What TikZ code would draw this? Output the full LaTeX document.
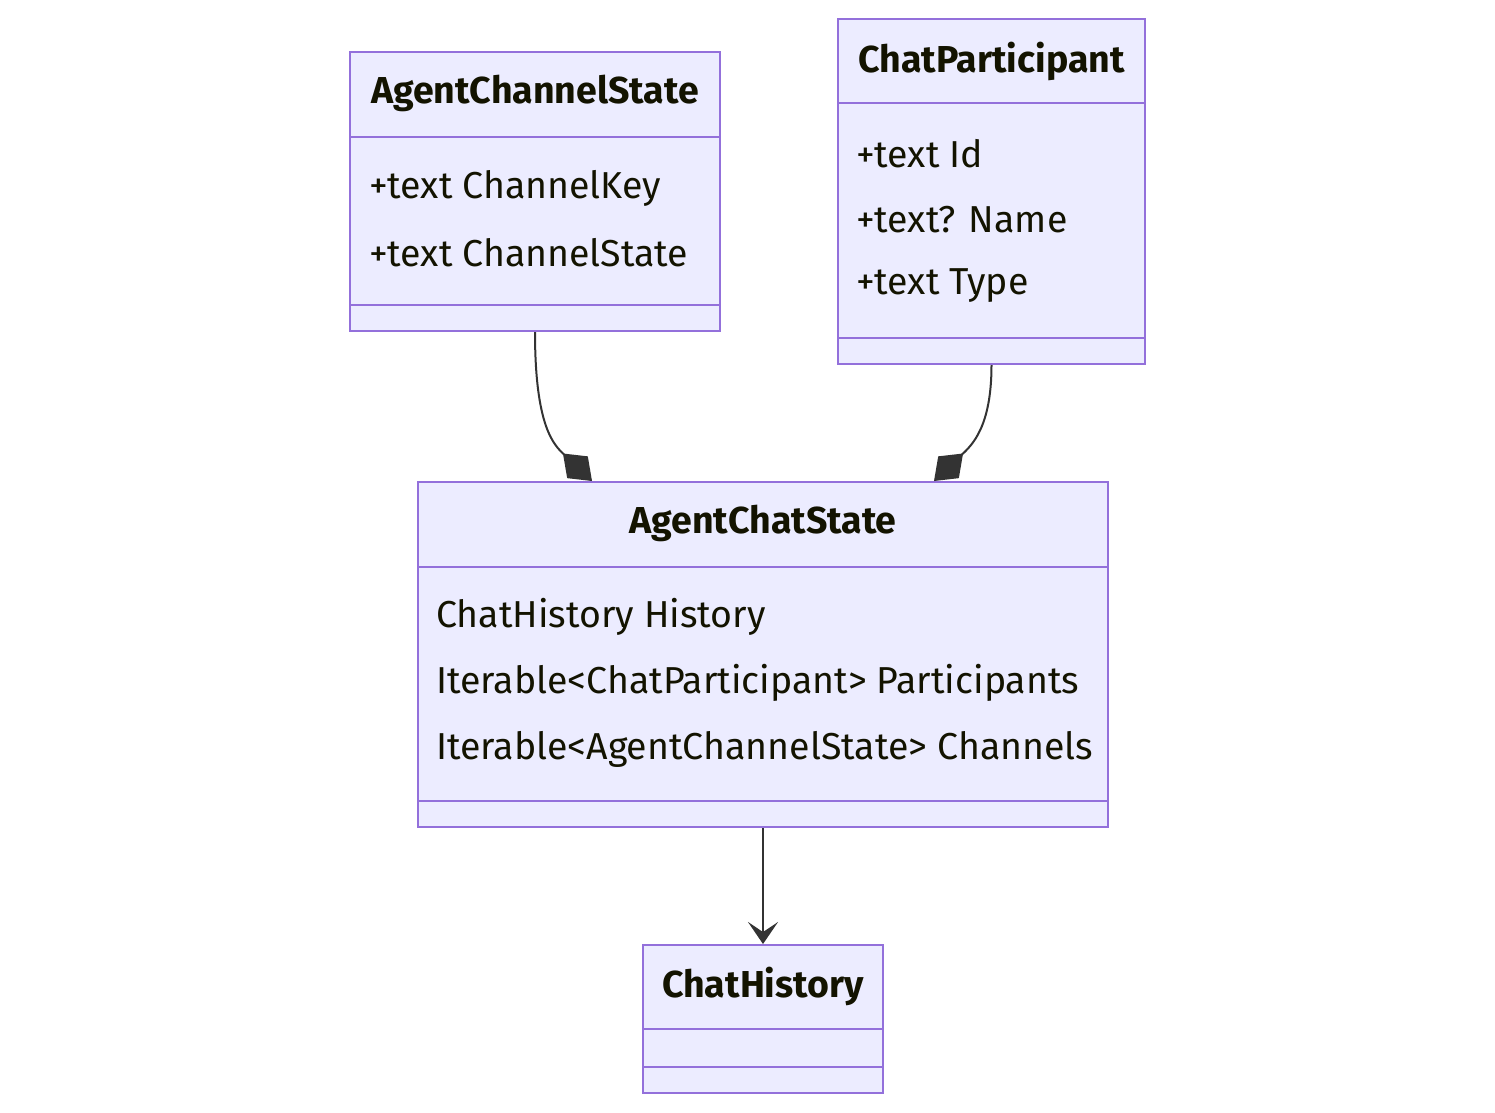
\documentclass[tikz,border=0pt]{standalone}
\usepackage{fontspec}
\setmainfont{Fira Sans}
\usetikzlibrary{arrows.meta}
\definecolor{boxfill}{HTML}{ECECFF}
\definecolor{boxline}{HTML}{9370DB}
\definecolor{edgecol}{HTML}{333333}
\definecolor{txt}{HTML}{131300}
\tikzset{
  box/.style={draw=boxline, fill=boxfill, line width=2pt, rectangle, inner sep=0pt},
  divider/.style={draw=boxline, line width=2pt},
  title/.style={font=\fontsize{37.5}{44}\selectfont\bfseries, text=txt, inner sep=0pt},
  member/.style={font=\fontsize{37.5}{44}\selectfont, text=txt, inner sep=0pt, anchor=west},
  edge/.style={draw=edgecol, line width=2pt},
}
\begin{document}
\begin{tikzpicture}[x=1pt,y=-1pt]
\useasboundingbox (0,0) rectangle (1495,1112);

% AgentChannelState
\node[box, minimum width=370pt, minimum height=279pt] (acs) at (535,191.5) {};
\draw[divider] (350,137) -- (720,137);
\draw[divider] (350,305) -- (720,305);
\node[title] (acsT) at (535,93) {AgentChannelState};
\node[member] (acs1) at (369,188) {+text ChannelKey};
\node[member] (acs2) at (369,253) {+text ChannelState};

% ChatParticipant
\node[box, minimum width=307pt, minimum height=345pt] (cp) at (991.5,191.5) {};
\draw[divider] (838,103) -- (1145,103);
\draw[divider] (838,338) -- (1145,338);
\node[title] (cpT) at (991.5,61) {ChatParticipant};
\node[member] (cp1) at (856,154) {+text Id};
\node[member] (cp2) at (856,220) {+text? Name};
\node[member] (cp3) at (856,286) {+text Type};

% AgentChatState
\node[box, minimum width=690pt, minimum height=345pt] (achat) at (763,654.5) {};
\draw[divider] (418,567) -- (1108,567);
\draw[divider] (418,801) -- (1108,801);
\node[title] (achatT) at (763,523) {AgentChatState};
\node[member] (ach1) at (436,617) {ChatHistory History};
\node[member] (ach2) at (436,683) {Iterable<ChatParticipant> Participants};
\node[member] (ach3) at (436,749) {Iterable<AgentChannelState> Channels};

% ChatHistory
\node[box, minimum width=240pt, minimum height=148pt] (ch) at (763,1019) {};
\draw[divider] (643,1029) -- (883,1029);
\draw[divider] (643,1067) -- (883,1067);
\node[title] (chT) at (763,986) {ChatHistory};

% connectors
\coordinate (d1) at (592,481);
\coordinate (d2) at (934,481);
\draw[edge, -{Diamond[length=40pt, width=30pt, fill=edgecol]}] (acs.south) .. controls +(0,95) and +(-38,-36) .. (d1);
\draw[edge, -{Diamond[length=40pt, width=30pt, fill=edgecol]}] (cp.south) .. controls +(0,62) and +(38,-36) .. (d2);
\draw[edge, -{Stealth[length=22pt, width=30pt, inset=10pt, fill=edgecol]}] (achat.south) -- (ch.north);
\end{tikzpicture}
\end{document}
